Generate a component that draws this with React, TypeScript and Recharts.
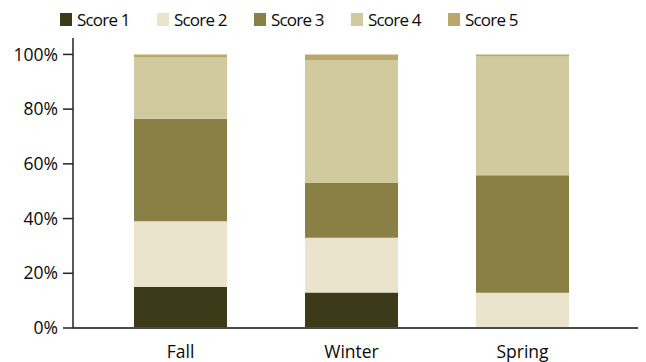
import * as React from 'react';
import { BarChart, Bar, XAxis, YAxis, Legend } from 'recharts';

const seasons = ['Fall', 'Winter', 'Spring'];
const score1 = [15, 13, 0.4];
const score2 = [24, 20, 12.5];
const score3 = [37.5, 20, 42.9];
const score4 = [22.4, 45, 43.4];
const score5 = [1.1, 2, 0.8];
const yTicks = [0, 20, 40, 60, 80, 100];

const seriesNames = ['Score 1', 'Score 2', 'Score 3', 'Score 4', 'Score 5'];
const colors = ['#3d3a1a', '#e9e4cb', '#8a7f45', '#d1ca9f', '#b8a96a'];

const data = seasons.map((season, i) => ({
  season,
  s1: score1[i],
  s2: score2[i],
  s3: score3[i],
  s4: score4[i],
  s5: score5[i],
}));

const font = '"Open Sans", "Noto Sans", sans-serif';

function LegendRow() {
  return (
    <div style={{ display: 'flex', fontFamily: font, fontSize: 17, letterSpacing: -0.8, color: '#0a0a0a', height: 22 }}>
      {seriesNames.map((name, i) => (
        <div key={name} style={{ width: 97, display: 'flex', alignItems: 'center' }}>
          <span style={{ width: 12, height: 13, background: colors[i], marginRight: 5, display: 'inline-block' }} />
          <span>{name}</span>
        </div>
      ))}
    </div>
  );
}

export default function App() {
  return (
    <div style={{ position: 'absolute', left: 0, top: 0, background: '#fff' }}>
      <BarChart width={646} height={362} data={data} margin={{ top: 16, right: 8, bottom: 4, left: 0 }}>
        <Legend
          verticalAlign="top"
          align="left"
          content={() => <LegendRow />}
          wrapperStyle={{ left: 60, top: 8 }}
        />
        <XAxis
          dataKey="season"
          padding={{ left: 22, right: 30 }}
          tickLine={false}
          tickSize={0}
          tickMargin={18}
          height={30}
          stroke="#4a4a4a"
          strokeWidth={2}
          tick={{ fill: '#0a0a0a', fontSize: 17.5, fontFamily: font }}
        />
        <YAxis
          domain={[0, 106]}
          ticks={yTicks}
          tickFormatter={(v) => `${v}%`}
          width={73}
          tickSize={10}
          tickMargin={5}
          stroke="#222"
          strokeWidth={1.5}
          tick={{ fill: '#0a0a0a', fontSize: 17.5, fontFamily: font }}
        />
        <Bar dataKey="s1" name="Score 1" stackId="a" fill={colors[0]} barSize={93} isAnimationActive={false} />
        <Bar dataKey="s2" name="Score 2" stackId="a" fill={colors[1]} barSize={93} isAnimationActive={false} />
        <Bar dataKey="s3" name="Score 3" stackId="a" fill={colors[2]} barSize={93} isAnimationActive={false} />
        <Bar dataKey="s4" name="Score 4" stackId="a" fill={colors[3]} barSize={93} isAnimationActive={false} />
        <Bar dataKey="s5" name="Score 5" stackId="a" fill={colors[4]} barSize={93} isAnimationActive={false} />
      </BarChart>
    </div>
  );
}
